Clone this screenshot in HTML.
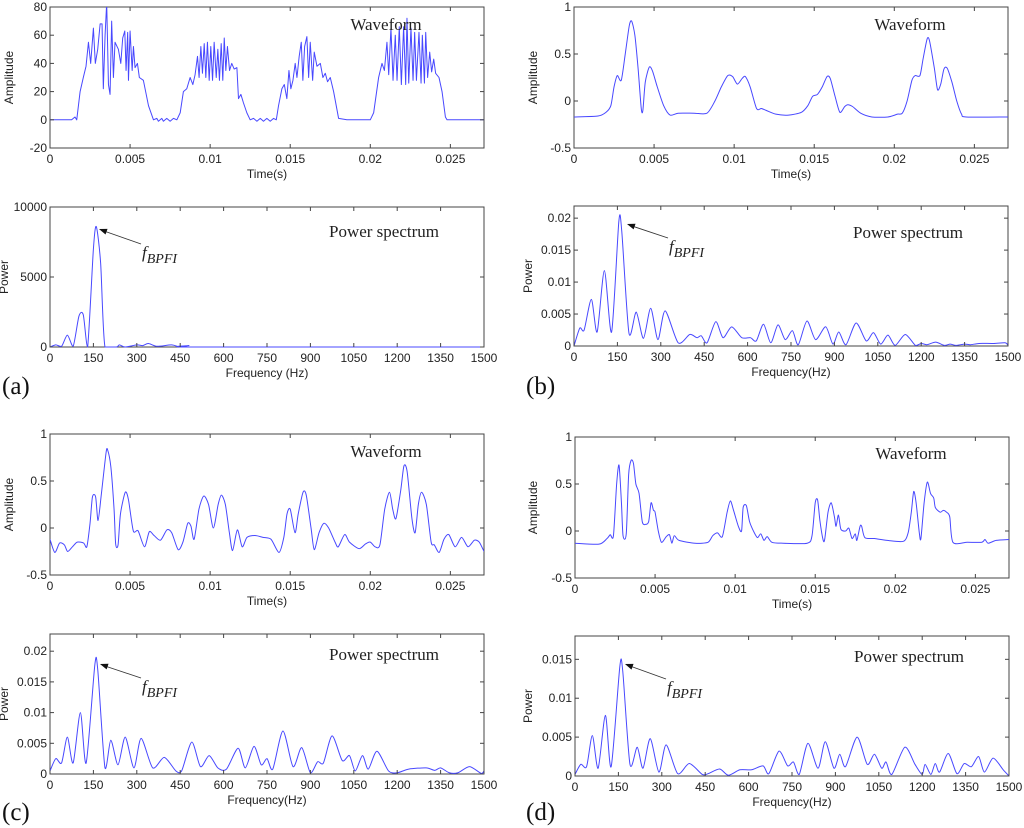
<!DOCTYPE html>
<html><head><meta charset="utf-8"><style>
html,body{margin:0;padding:0;background:#fff;}
svg{display:block;}
.tk{font-family:"Liberation Sans",Arial,sans-serif;font-size:12px;fill:#222;}
.ttl{font-family:"Liberation Serif","Times New Roman",serif;font-size:17px;fill:#222;}
.pl{font-family:"Liberation Serif","Times New Roman",serif;font-size:25px;fill:#111;}
</style></head><body>
<svg id="fig" width="1024" height="828" viewBox="0 0 1024 828" xmlns="http://www.w3.org/2000/svg"></svg>
<script>
// ---- data: waveform (a), time in ms ----
const waveA_t=[0,1.35,1.56,1.67,1.88,2.08,2.25,2.40,2.54,2.71,2.83,2.98,3.13,3.25,3.33,3.44,3.54,3.65,3.75,3.85,3.96,4.06,4.27,4.42,4.54,4.67,4.75,4.85,4.90,5.0,5.13,5.21,5.31,5.46,5.58,5.83,6.15,6.46,6.67,6.77,6.98,7.08,7.29,7.5,7.71,7.92,8.13,8.33,8.54,8.75,8.92,9.06,9.21,9.31,9.42,9.52,9.63,9.73,9.83,9.94,10.04,10.15,10.25,10.38,10.48,10.58,10.69,10.79,10.88,10.98,11.08,11.21,11.35,11.5,11.67,11.77,11.92,12.08,12.29,12.5,12.71,12.92,13.13,13.33,13.54,13.75,13.96,14.13,14.27,14.48,14.63,14.79,14.92,15.04,15.17,15.31,15.42,15.56,15.69,15.79,15.9,16.04,16.15,16.25,16.4,16.5,16.67,16.88,17.04,17.19,17.33,17.5,17.71,18.02,18.54,20.0,20.21,20.52,20.73,20.88,21.04,21.15,21.29,21.42,21.56,21.67,21.81,21.94,22.08,22.21,22.29,22.4,22.54,22.67,22.77,22.88,23.04,23.17,23.25,23.38,23.46,23.58,23.71,23.83,23.96,24.08,24.29,24.48,24.69,24.79,27.1];
const waveA_v=[0,0,2,0,20,30,38,55,40,65,40,50,68,68,22,60,83,25,18,70,30,55,50,40,58,63,35,62,28,63,35,52,37,40,30,28,10,0,1,-1,1,-1,1,-1,1,0,5,20,22,30,25,32,45,30,52,33,54,30,55,28,52,28,55,30,50,28,54,28,58,35,52,35,40,36,37,15,18,12,5,0,1,-1,1,-1,1,-1,1,0,10,22,25,15,35,22,28,40,30,45,55,28,52,59,30,55,28,48,38,40,30,33,27,30,20,1,0,0,5,30,40,35,55,32,65,28,60,28,66,25,66,25,72,26,65,28,62,28,62,26,60,26,62,30,48,34,43,33,30,20,2,0,0];
// ---- waveform (b) ----
const waveB_t=[0,1.5,2.0,2.3,2.5,2.7,2.95,3.2,3.45,3.6,3.8,4.0,4.2,4.3,4.45,4.7,4.9,5.2,5.6,6.0,6.5,7.5,8.3,8.8,9.2,9.6,9.9,10.2,10.5,10.7,11.0,11.4,11.7,12.0,12.6,13.4,14.2,14.6,14.9,15.2,15.5,15.8,16.0,16.3,16.6,16.9,17.1,17.4,17.9,18.6,19.6,20.2,20.5,20.8,21.1,21.3,21.6,21.8,22.05,22.2,22.5,22.7,22.9,23.1,23.3,23.6,23.9,24.2,24.5,27.1];
const waveB_v=[-0.17,-0.16,-0.12,-0.05,0.15,0.27,0.22,0.5,0.8,0.85,0.7,0.35,-0.08,-0.1,0.2,0.36,0.32,0.15,-0.05,-0.15,-0.13,-0.13,-0.13,0.0,0.15,0.27,0.26,0.18,0.24,0.26,0.15,-0.08,-0.08,-0.1,-0.14,-0.15,-0.12,-0.05,0.05,0.07,0.15,0.26,0.24,0.05,-0.12,-0.06,-0.04,-0.06,-0.13,-0.17,-0.17,-0.14,-0.13,0.0,0.22,0.27,0.27,0.45,0.66,0.64,0.35,0.12,0.18,0.34,0.35,0.2,0.0,-0.14,-0.17,-0.17];
// ---- waveform (c) ----
const waveC_t=[0,0.3,0.6,0.9,1.1,1.4,1.7,2.1,2.3,2.5,2.65,2.85,3.0,3.2,3.5,3.6,3.8,4.0,4.1,4.25,4.4,4.7,4.9,5.2,5.5,5.9,6.2,6.5,6.9,7.3,7.6,8.0,8.3,8.6,8.8,9.0,9.3,9.6,9.9,10.2,10.5,10.7,10.95,11.2,11.4,11.7,12.0,12.3,12.8,13.3,13.8,14.3,14.6,14.8,15.0,15.3,15.5,15.8,16.0,16.3,16.5,16.8,17.1,17.4,17.8,18.0,18.4,18.7,19.3,19.7,20.0,20.3,20.6,20.9,21.2,21.4,21.6,21.9,22.1,22.3,22.6,22.8,23.0,23.2,23.5,23.8,24.0,24.3,24.6,24.9,25.3,25.7,26.1,26.5,26.8,27.1];
const waveC_v=[-0.12,-0.26,-0.16,-0.18,-0.25,-0.2,-0.15,-0.16,-0.2,0.05,0.33,0.33,0.08,0.35,0.8,0.83,0.65,0.2,-0.17,-0.18,0.15,0.38,0.3,-0.03,-0.03,-0.2,-0.04,-0.08,-0.13,-0.02,-0.05,-0.23,-0.15,0.05,0.02,-0.12,0.2,0.34,0.25,0.0,0.25,0.35,0.25,-0.05,-0.24,-0.02,-0.2,-0.1,-0.08,-0.1,-0.12,-0.26,-0.1,0.15,0.2,-0.05,0.15,0.38,0.35,0.0,-0.23,-0.05,0.05,0.0,-0.15,-0.2,-0.07,-0.15,-0.22,-0.17,-0.15,-0.2,-0.18,0.2,0.38,0.2,0.1,0.4,0.66,0.6,0.1,-0.05,0.25,0.38,0.25,-0.15,-0.18,-0.26,-0.12,-0.07,-0.2,-0.1,-0.2,-0.13,-0.15,-0.25];
// ---- waveform (d) ----
const waveD_t=[0,1.5,2.0,2.2,2.4,2.6,2.75,2.9,3.0,3.2,3.35,3.5,3.65,3.8,4.0,4.2,4.4,4.6,4.75,4.9,5.0,5.2,5.4,5.7,5.9,6.05,6.2,6.5,7.5,8.3,8.6,8.9,9.2,9.5,9.7,9.9,10.2,10.4,10.5,10.7,10.9,11.2,11.4,11.6,11.8,12.0,12.3,13.0,14.5,14.8,15.0,15.15,15.3,15.5,15.6,15.8,16.0,16.2,16.3,16.45,16.6,16.9,17.1,17.3,17.5,17.6,17.8,17.9,18.1,18.7,19.5,20.5,20.8,21.0,21.15,21.3,21.5,21.6,21.8,22.0,22.2,22.4,22.5,22.8,23.0,23.2,23.4,23.6,24.5,25.4,25.6,25.8,26.3,27.1];
const waveD_v=[-0.13,-0.14,-0.08,-0.04,-0.05,0.5,0.7,0.3,-0.05,-0.03,0.6,0.75,0.72,0.5,0.4,0.1,0.07,0.1,0.3,0.22,0.2,0.0,-0.12,-0.06,-0.04,-0.13,-0.05,-0.1,-0.13,-0.12,-0.05,-0.02,-0.06,0.2,0.32,0.22,0.05,0.0,0.25,0.27,0.1,-0.02,-0.07,-0.03,-0.1,-0.06,-0.12,-0.13,-0.13,-0.05,0.3,0.33,0.1,-0.1,-0.08,0.2,0.3,0.15,0.05,0.17,0.02,0.0,0.03,-0.08,-0.03,-0.1,0.05,0.05,-0.07,-0.08,-0.1,-0.11,-0.02,0.2,0.42,0.3,-0.02,-0.08,0.3,0.52,0.4,0.35,0.25,0.2,0.22,0.2,0.15,-0.12,-0.12,-0.12,-0.09,-0.13,-0.1,-0.09];
// ---- power spectra, frequency in Hz ----
const specA_f=[0,20,40,60,80,100,115,130,150,160,175,190,230,240,260,300,320,340,370,420,450,480,500,1500];
const specA_p=[0,150,50,850,50,2200,2300,0,7000,8600,6000,0,0,150,0,150,100,250,50,150,0,100,0,0];
const specB_f=[0,20,35,60,80,105,130,155,165,190,215,240,265,290,315,360,400,425,440,460,490,515,545,580,610,630,655,680,705,730,755,775,805,835,870,895,915,940,975,1010,1035,1060,1085,1110,1145,1180,1200,1220,1250,1280,1300,1320,1350,1370,1400,1450,1490,1500];
const specB_p=[0,0.0028,0.0025,0.0073,0.0022,0.0118,0.0022,0.0195,0.018,0.002,0.0053,0.0012,0.0059,0.001,0.0055,0.0005,0.0018,0.0013,0.0016,0.0005,0.0038,0.0013,0.003,0.0013,0.0013,0.0008,0.0034,0.0005,0.0033,0.001,0.0024,0.0002,0.0039,0.001,0.003,0.0003,0.0022,0.0002,0.0036,0.0008,0.0021,0.0003,0.0017,0.0001,0.0018,0.0001,0.0004,0.0002,0.0006,0.0001,0.0003,0.0001,0.0003,0.0002,0.0004,0.0004,0.0005,0.0001];
const specC_f=[0,20,40,60,80,105,125,155,165,190,210,235,260,290,315,355,395,435,455,490,520,550,580,610,650,675,705,730,750,770,805,840,870,900,925,945,975,1010,1035,1055,1080,1100,1130,1170,1200,1240,1300,1330,1350,1380,1410,1450,1490,1500];
const specC_p=[0.0005,0.0025,0.0018,0.006,0.0018,0.01,0.0018,0.0178,0.017,0.001,0.0055,0.0015,0.006,0.001,0.0058,0.001,0.0027,0.0005,0.0005,0.0052,0.0012,0.003,0.001,0.0008,0.0042,0.001,0.0045,0.0015,0.0025,0.0008,0.007,0.0012,0.0043,0.0002,0.002,0.0018,0.0062,0.0022,0.003,0.0005,0.003,0.0008,0.0037,0.0005,0.0002,0.0008,0.001,0.0006,0.001,0.0002,0.0002,0.0012,0.0001,0.0005];
const specD_f=[0,20,40,60,80,105,125,155,165,190,215,235,260,290,315,355,395,440,460,500,530,570,610,650,670,705,735,755,775,805,840,865,895,915,935,975,1010,1035,1060,1075,1095,1140,1175,1200,1210,1230,1245,1260,1290,1320,1345,1370,1395,1415,1445,1480,1500];
const specD_p=[0.0002,0.0015,0.0012,0.0052,0.001,0.0078,0.0012,0.0141,0.0135,0.0015,0.0037,0.001,0.0048,0.0005,0.004,0.0003,0.0016,0.0002,0.0003,0.0009,0.0001,0.0008,0.0008,0.0013,0.0003,0.0032,0.0013,0.0018,0.0002,0.0042,0.001,0.0044,0.001,0.0028,0.0012,0.005,0.0015,0.0028,0.001,0.0018,0.0002,0.0037,0.0015,0.0002,0.0015,0.0002,0.0016,0.0005,0.0029,0.0003,0.0016,0.0012,0.0025,0.0005,0.0023,0.0008,0.0];
// ---- tick labels ----
const timeTicks=[0,0.005,0.01,0.015,0.02,0.025];
const timeTickLabels=["0","0.005","0.01","0.015","0.02","0.025"];
const freqTicks=[0,150,300,450,600,750,900,1050,1200,1350,1500];
const ampTicksA=[-20,0,20,40,60,80];
const ampTicksB=[-0.5,0,0.5,1];
const ampTickLabelsB=["-0.5","0","0.5","1"];
const powTicksA=[0,5000,10000];
const powTicksB=[0,0.005,0.01,0.015,0.02];
const powTickLabelsB=["0","0.005","0.01","0.015","0.02"];
const powTicksD=[0,0.005,0.01,0.015];
const powTickLabelsD=["0","0.005","0.01","0.015"];

const NS="http://www.w3.org/2000/svg";
const svg=document.getElementById('fig');
function mk(tag,attrs,parent){const e=document.createElementNS(NS,tag);for(const k in attrs)e.setAttribute(k,attrs[k]);(parent||svg).appendChild(e);return e;}
let clipN=0;
function panel(o){
  const g=mk('g',{});
  
  
  const sx=v=>o.x0+(v-o.xmin)/(o.xmax-o.xmin)*(o.x1-o.x0);
  const sy=v=>o.y1-(v-o.ymin)/(o.ymax-o.ymin)*(o.y1-o.y0);
  mk('rect',{x:o.x0,y:o.y0,width:o.x1-o.x0,height:o.y1-o.y0,fill:'#fff',stroke:'#444','stroke-width':1},g);
  const cid='clip'+(clipN++);
  const cp=mk('clipPath',{id:cid},g);
  mk('rect',{x:o.x0,y:o.y0,width:o.x1-o.x0,height:o.y1-o.y0+0.5},cp);
  const T=0.13;
  const P=k=>[sx(o.xs[k]*o.xscale),sy(o.ys[k])];
  let d='';
  for(let i=0;i<o.xs.length;i++){
    const c=P(i);
    if(!o.smooth||i===0){d+=(i?'L':'M')+c[0].toFixed(2)+','+c[1].toFixed(2);}
    else{
      const a=P(i>1?i-2:i-1),b=P(i-1),e=P(i<o.xs.length-1?i+1:i);
      const lim=y=>o.clampBottom?Math.min(y,o.y1):y;
      const c1=[b[0]+(c[0]-a[0])*T,lim(b[1]+(c[1]-a[1])*T)],c2=[c[0]-(e[0]-b[0])*T,lim(c[1]-(e[1]-b[1])*T)];
      d+='C'+c1.map(v=>v.toFixed(2)).join(',')+' '+c2.map(v=>v.toFixed(2)).join(',')+' '+c.map(v=>v.toFixed(2)).join(',');
    }
  }
  const line=mk('path',{d:d,fill:'none',stroke:'#4848ff','stroke-width':1,'stroke-linejoin':'round','clip-path':'url(#'+cid+')'},g);
  
  
  o.xt.forEach((v,i)=>{
    const X=sx(v);
    mk('line',{x1:X,y1:o.y1,x2:X,y2:o.y1-4,stroke:'#444'},g);
    mk('line',{x1:X,y1:o.y0,x2:X,y2:o.y0+4,stroke:'#444'},g);
    const t=mk('text',{x:X,y:o.y1+15,'text-anchor':'middle',class:'tk'},g);
    t.textContent=o.xl[i];
    
    
  });
  o.yt.forEach((v,i)=>{
    const Y=sy(v);
    mk('line',{x1:o.x0,y1:Y,x2:o.x0+4,y2:Y,stroke:'#444'},g);
    mk('line',{x1:o.x1,y1:Y,x2:o.x1-4,y2:Y,stroke:'#444'},g);
    const t=mk('text',{x:o.x0-3,y:Y+4,'text-anchor':'end',class:'tk'},g);
    t.textContent=o.yl[i];
    
    
  });
  const xl=mk('text',{x:(o.x0+o.x1)/2,y:o.y1+30,'text-anchor':'middle',class:'tk'},g);
  xl.textContent=o.xlabel;
  
  
  const yc=(o.y0+o.y1)/2;
  const yl=mk('text',{x:o.ylx,y:yc,'text-anchor':'middle',class:'tk',transform:'rotate(-90 '+o.ylx+' '+yc+')'},g);
  yl.textContent=o.ylabel;
  
  
  const tt=mk('text',{x:o.tx,y:o.ty,'text-anchor':'middle',class:'ttl'},g);
  tt.textContent=o.title;
  
  
  if(o.arrow){
    const [hx,hy,tx,ty]=o.arrow;
    mk('line',{x1:tx,y1:ty,x2:hx+5,y2:hy+2,stroke:'#333','stroke-width':0.9},g);
    const ang=Math.atan2(ty-hy,tx-hx),L=8,W=3;
    const bx=hx+L*Math.cos(ang),by=hy+L*Math.sin(ang);
    mk('polygon',{points:hx+','+hy+' '+(bx-W*Math.sin(ang))+','+(by+W*Math.cos(ang))+' '+(bx+W*Math.sin(ang))+','+(by-W*Math.cos(ang)),fill:'#111'},g);
    const f=mk('text',{x:tx+1,y:ty+14,class:'ttl','font-style':'italic','font-size':'19'},g);
    
    
    f.innerHTML='f<tspan dy="5" font-size="14">BPFI</tspan>';
  }
}
const fl=freqTicks.map(String);
const amLa=ampTicksA.map(String), pla=powTicksA.map(String);
function pair(tag,X0,X1,wy0,wy1,sy0,sy1,wave_t,wave_v,ampT,ampL,spf,spp,pmax,pT,pL,freqLabel,smooth,arrow,waveTitleY,specTitleY,ylxW,ylxS){
  panel({name:'waveform-'+tag,x0:X0,x1:X1,y0:wy0,y1:wy1,xmin:0,xmax:0.0271,ymin:ampT[0],ymax:ampT[ampT.length-1],xs:wave_t,ys:wave_v,xscale:0.001,smooth:smooth,
    xt:timeTicks,xl:timeTickLabels,yt:ampT,yl:ampL,xlabel:'Time(s)',ylabel:'Amplitude',ylx:ylxW,title:'Waveform',tx:X0+336,ty:waveTitleY});
  panel({name:'power-spectrum-'+tag,x0:X0,x1:X1,y0:sy0,y1:sy1,xmin:0,xmax:1500,ymin:0,ymax:pmax,xs:spf,ys:spp,xscale:1,smooth:true,clampBottom:true,
    xt:freqTicks,xl:fl,yt:pT,yl:pL,xlabel:freqLabel,ylabel:'Power',ylx:ylxS,title:'Power spectrum',tx:X0+334,ty:specTitleY,arrow:arrow});
}
pair('a',50,484,7,148,207,347,waveA_t,waveA_v,ampTicksA,amLa,specA_f,specA_p,10000,powTicksA,pla,'Frequency (Hz)',false,[99,229,141,244],30,237,13,8);
pair('b',574,1008,7,148,206,346,waveB_t,waveB_v,ampTicksB,ampTickLabelsB,specB_f,specB_p,0.0219,powTicksB,powTickLabelsB,'Frequency(Hz)',true,[627,224,668,238],30,238,537,532);
pair('c',50,484,434,575,634,774,waveC_t,waveC_v,ampTicksB,ampTickLabelsB,specC_f,specC_p,0.0228,powTicksB,powTickLabelsB,'Frequency(Hz)',true,[100,664,141,678],457,660,13,8);
pair('d',575,1009,437,578,636,776,waveD_t,waveD_v,ampTicksB,ampTickLabelsB,specD_f,specD_p,0.018,powTicksD,powTickLabelsD,'Frequency(Hz)',true,[625,664,666,679],459,662,537,532);
[['(a)',2,394],['(b)',526,394],['(c)',2,820],['(d)',526,820]].forEach(p=>{
  const t=mk('text',{x:p[1],y:p[2],class:'pl'});
  t.textContent=p[0];
  
  
});
</script>
</body></html>
